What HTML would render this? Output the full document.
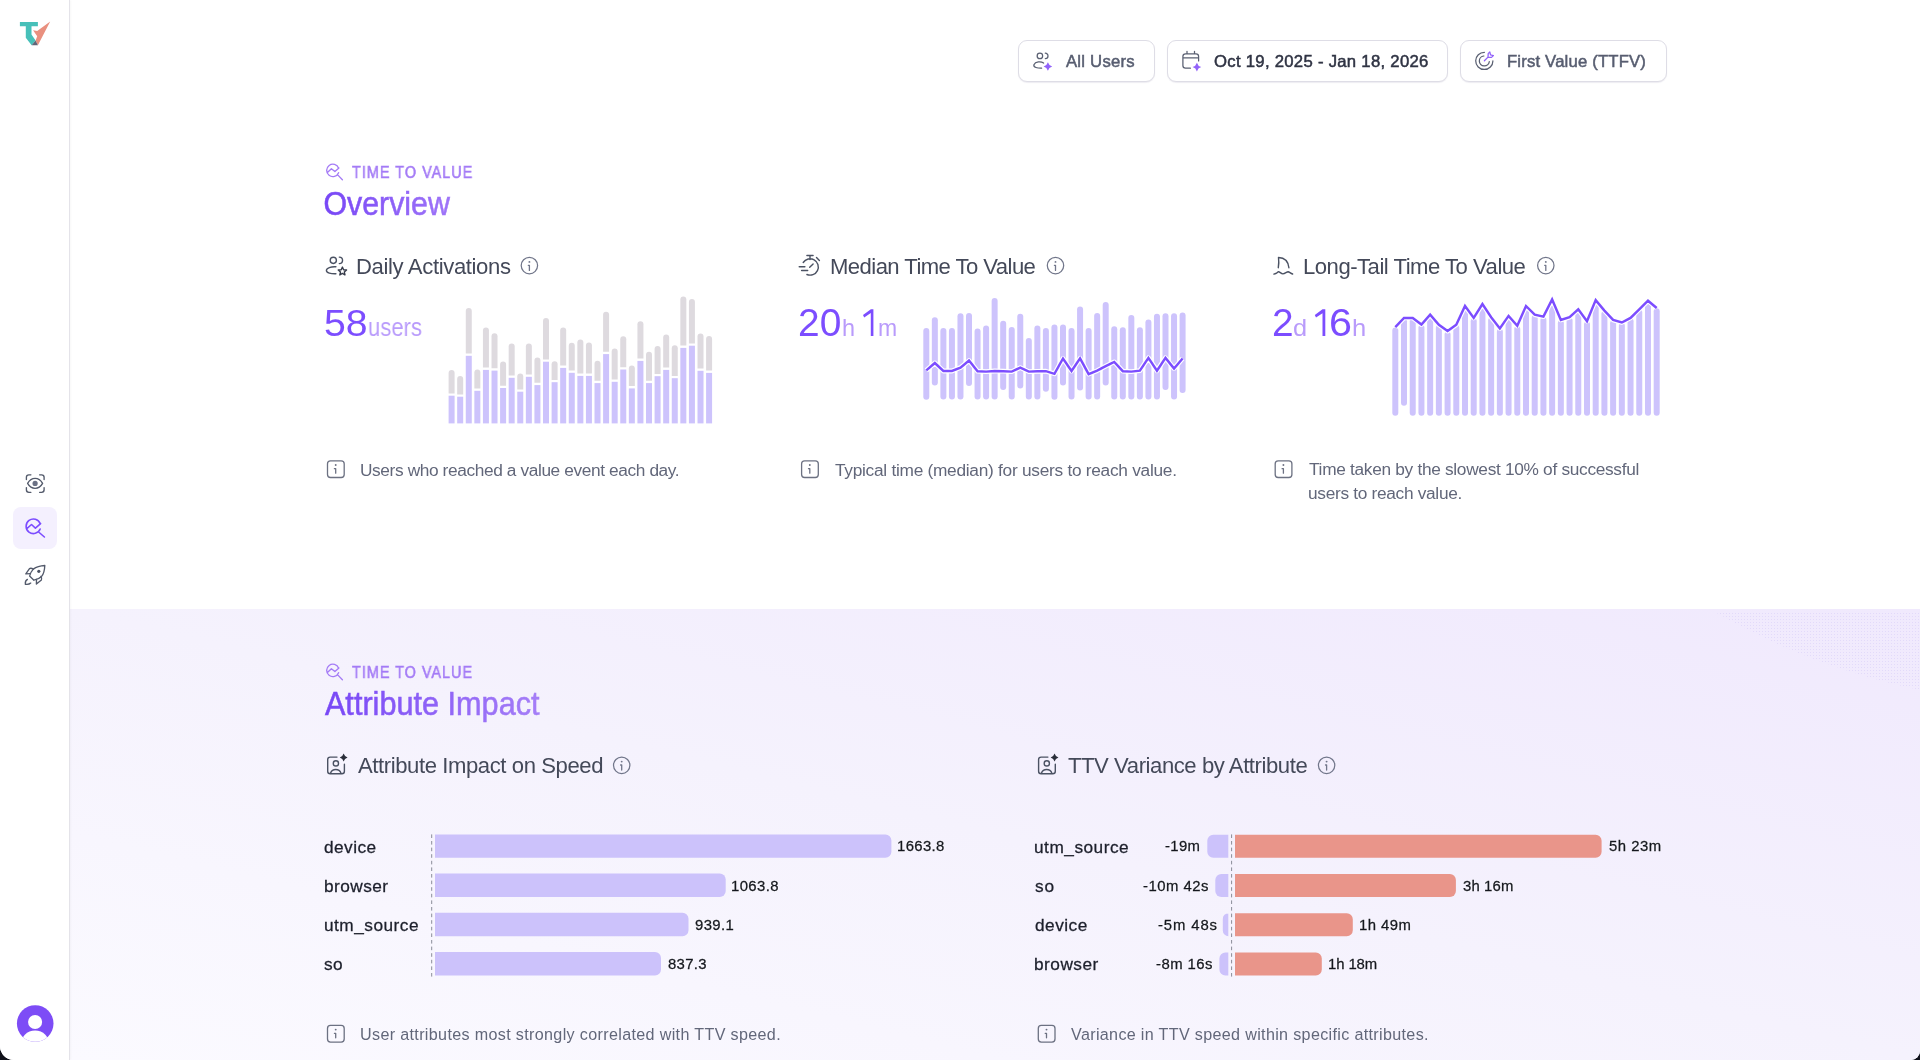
<!DOCTYPE html>
<html><head><meta charset="utf-8"><title>Time To Value</title>
<style>
html,body{margin:0;padding:0;width:1920px;height:1060px;overflow:hidden;background:#0f111a;}
#page{position:absolute;left:0;top:0;width:1920px;height:1060px;overflow:hidden;background:#ffffff;border-radius:0 0 9px 14px;}
.t{position:absolute;font-family:"Liberation Sans",sans-serif;line-height:1;white-space:pre;will-change:transform;}
.grad{background:linear-gradient(90deg,#7b4bfa 0%,#9a6cf8 100%);-webkit-background-clip:text;background-clip:text;color:transparent !important;}
.grad2{background:linear-gradient(90deg,#7b4bfa 0%,#a57af5 100%);-webkit-background-clip:text;background-clip:text;color:transparent !important;}
.halo{text-shadow:0 0 1.5px #fff,0 0 1.5px #fff,0 0 1px #fff;}
svg{position:absolute;left:0;top:0;}
</style></head><body><div id="page">
<div style="position:absolute;left:70px;top:609px;width:1850px;height:451px;background:linear-gradient(to top right,#fbfaff 0%,#f5f2fd 50%,#f0e9fd 100%);"></div>
<div style="position:absolute;left:0;top:0;width:69px;height:1060px;background:#fff;border-right:1px solid #e4e3e9;box-shadow:1px 0 2px rgba(20,20,40,0.03);"></div>
<div style="position:absolute;left:13px;top:507px;width:44px;height:42px;border-radius:8px;background:#f4f0fe;"></div>
<div style="position:absolute;left:1018px;top:40px;width:137px;height:42px;box-sizing:border-box;border:1px solid #dedde6;border-radius:9px;background:#fff;box-shadow:0 1px 1px rgba(40,30,90,0.08);"></div>
<div style="position:absolute;left:1167px;top:40px;width:281px;height:42px;box-sizing:border-box;border:1px solid #dedde6;border-radius:9px;background:#fff;box-shadow:0 1px 1px rgba(40,30,90,0.08);"></div>
<div style="position:absolute;left:1460px;top:40px;width:207px;height:42px;box-sizing:border-box;border:1px solid #dedde6;border-radius:9px;background:#fff;box-shadow:0 1px 1px rgba(40,30,90,0.08);"></div>
<svg width="1920" height="1060" viewBox="0 0 1920 1060" style="will-change:transform">
<defs><pattern id="dots" width="3" height="3" patternUnits="userSpaceOnUse"><circle cx="1.5" cy="1.5" r="0.55" fill="#a995f0"/></pattern></defs>
<path d="M1715 612H1920V690C1850 675 1780 650 1715 612Z" fill="url(#dots)" opacity="0.22"/>
<rect x="448.60" y="395.70" width="6" height="27.70" fill="#cdc3fc"/>
<path d="M448.60 393.40V372.90A3 3 0 0 1 454.60 372.90V393.40Z" fill="#dedadf"/>
<rect x="457.18" y="396.70" width="6" height="26.70" fill="#cdc3fc"/>
<path d="M457.18 394.40V378.90A3 3 0 0 1 463.18 378.90V394.40Z" fill="#dedadf"/>
<rect x="465.77" y="355.80" width="6" height="67.60" fill="#cdc3fc"/>
<path d="M465.77 353.50V311.10A3 3 0 0 1 471.77 311.10V353.50Z" fill="#dedadf"/>
<rect x="474.35" y="390.80" width="6" height="32.60" fill="#cdc3fc"/>
<path d="M474.35 388.50V372.60A3 3 0 0 1 480.35 372.60V388.50Z" fill="#dedadf"/>
<rect x="482.93" y="369.90" width="6" height="53.50" fill="#cdc3fc"/>
<path d="M482.93 367.60V330.60A3 3 0 0 1 488.93 330.60V367.60Z" fill="#dedadf"/>
<rect x="491.52" y="370.60" width="6" height="52.80" fill="#cdc3fc"/>
<path d="M491.52 368.30V336.30A3 3 0 0 1 497.52 336.30V368.30Z" fill="#dedadf"/>
<rect x="500.10" y="388.00" width="6" height="35.40" fill="#cdc3fc"/>
<path d="M500.10 385.70V364.60A3 3 0 0 1 506.10 364.60V385.70Z" fill="#dedadf"/>
<rect x="508.68" y="377.80" width="6" height="45.60" fill="#cdc3fc"/>
<path d="M508.68 375.50V346.50A3 3 0 0 1 514.68 346.50V375.50Z" fill="#dedadf"/>
<rect x="517.26" y="391.70" width="6" height="31.70" fill="#cdc3fc"/>
<path d="M517.26 389.40V376.50A3 3 0 0 1 523.26 376.50V389.40Z" fill="#dedadf"/>
<rect x="525.85" y="376.80" width="6" height="46.60" fill="#cdc3fc"/>
<path d="M525.85 374.50V346.50A3 3 0 0 1 531.85 346.50V374.50Z" fill="#dedadf"/>
<rect x="534.43" y="385.10" width="6" height="38.30" fill="#cdc3fc"/>
<path d="M534.43 382.80V360.40A3 3 0 0 1 540.43 360.40V382.80Z" fill="#dedadf"/>
<rect x="543.01" y="361.70" width="6" height="61.70" fill="#cdc3fc"/>
<path d="M543.01 359.40V321.00A3 3 0 0 1 549.01 321.00V359.40Z" fill="#dedadf"/>
<rect x="551.60" y="382.20" width="6" height="41.20" fill="#cdc3fc"/>
<path d="M551.60 379.90V364.30A3 3 0 0 1 557.60 364.30V379.90Z" fill="#dedadf"/>
<rect x="560.18" y="367.90" width="6" height="55.50" fill="#cdc3fc"/>
<path d="M560.18 365.60V330.40A3 3 0 0 1 566.18 330.40V365.60Z" fill="#dedadf"/>
<rect x="568.76" y="372.80" width="6" height="50.60" fill="#cdc3fc"/>
<path d="M568.76 370.50V345.80A3 3 0 0 1 574.76 345.80V370.50Z" fill="#dedadf"/>
<rect x="577.35" y="375.90" width="6" height="47.50" fill="#cdc3fc"/>
<path d="M577.35 373.60V342.50A3 3 0 0 1 583.35 342.50V373.60Z" fill="#dedadf"/>
<rect x="585.93" y="375.90" width="6" height="47.50" fill="#cdc3fc"/>
<path d="M585.93 373.60V345.60A3 3 0 0 1 591.93 345.60V373.60Z" fill="#dedadf"/>
<rect x="594.51" y="383.10" width="6" height="40.30" fill="#cdc3fc"/>
<path d="M594.51 380.80V363.70A3 3 0 0 1 600.51 363.70V380.80Z" fill="#dedadf"/>
<rect x="603.09" y="354.10" width="6" height="69.30" fill="#cdc3fc"/>
<path d="M603.09 351.80V314.80A3 3 0 0 1 609.09 314.80V351.80Z" fill="#dedadf"/>
<rect x="611.68" y="381.80" width="6" height="41.60" fill="#cdc3fc"/>
<path d="M611.68 379.50V351.50A3 3 0 0 1 617.68 351.50V379.50Z" fill="#dedadf"/>
<rect x="620.26" y="369.50" width="6" height="53.90" fill="#cdc3fc"/>
<path d="M620.26 367.20V339.20A3 3 0 0 1 626.26 339.20V367.20Z" fill="#dedadf"/>
<rect x="628.84" y="388.40" width="6" height="35.00" fill="#cdc3fc"/>
<path d="M628.84 386.10V368.60A3 3 0 0 1 634.84 368.60V386.10Z" fill="#dedadf"/>
<rect x="637.43" y="360.90" width="6" height="62.50" fill="#cdc3fc"/>
<path d="M637.43 358.60V324.30A3 3 0 0 1 643.43 324.30V358.60Z" fill="#dedadf"/>
<rect x="646.01" y="383.10" width="6" height="40.30" fill="#cdc3fc"/>
<path d="M646.01 380.80V354.80A3 3 0 0 1 652.01 354.80V380.80Z" fill="#dedadf"/>
<rect x="654.59" y="376.20" width="6" height="47.20" fill="#cdc3fc"/>
<path d="M654.59 373.90V349.10A3 3 0 0 1 660.59 349.10V373.90Z" fill="#dedadf"/>
<rect x="663.18" y="369.90" width="6" height="53.50" fill="#cdc3fc"/>
<path d="M663.18 367.60V337.50A3 3 0 0 1 669.18 337.50V367.60Z" fill="#dedadf"/>
<rect x="671.76" y="378.20" width="6" height="45.20" fill="#cdc3fc"/>
<path d="M671.76 375.90V348.20A3 3 0 0 1 677.76 348.20V375.90Z" fill="#dedadf"/>
<rect x="680.34" y="347.90" width="6" height="75.50" fill="#cdc3fc"/>
<path d="M680.34 345.60V299.60A3 3 0 0 1 686.34 299.60V345.60Z" fill="#dedadf"/>
<rect x="688.92" y="345.70" width="6" height="77.70" fill="#cdc3fc"/>
<path d="M688.92 343.40V302.00A3 3 0 0 1 694.92 302.00V343.40Z" fill="#dedadf"/>
<rect x="697.51" y="370.80" width="6" height="52.60" fill="#cdc3fc"/>
<path d="M697.51 368.50V336.60A3 3 0 0 1 703.51 336.60V368.50Z" fill="#dedadf"/>
<rect x="706.09" y="372.90" width="6" height="50.50" fill="#cdc3fc"/>
<path d="M706.09 370.60V339.00A3 3 0 0 1 712.09 339.00V370.60Z" fill="#dedadf"/>
<line x1="926.30" y1="330.90" x2="926.30" y2="396.70" stroke="#cdc3fc" stroke-width="6" stroke-linecap="round"/>
<line x1="934.84" y1="320.20" x2="934.84" y2="382.50" stroke="#cdc3fc" stroke-width="6" stroke-linecap="round"/>
<line x1="943.39" y1="331.00" x2="943.39" y2="396.50" stroke="#cdc3fc" stroke-width="6" stroke-linecap="round"/>
<line x1="951.93" y1="331.00" x2="951.93" y2="396.50" stroke="#cdc3fc" stroke-width="6" stroke-linecap="round"/>
<line x1="960.47" y1="316.20" x2="960.47" y2="396.50" stroke="#cdc3fc" stroke-width="6" stroke-linecap="round"/>
<line x1="969.01" y1="316.00" x2="969.01" y2="383.10" stroke="#cdc3fc" stroke-width="6" stroke-linecap="round"/>
<line x1="977.56" y1="331.50" x2="977.56" y2="396.50" stroke="#cdc3fc" stroke-width="6" stroke-linecap="round"/>
<line x1="986.10" y1="328.40" x2="986.10" y2="396.50" stroke="#cdc3fc" stroke-width="6" stroke-linecap="round"/>
<line x1="994.64" y1="300.90" x2="994.64" y2="396.50" stroke="#cdc3fc" stroke-width="6" stroke-linecap="round"/>
<line x1="1003.19" y1="323.80" x2="1003.19" y2="387.10" stroke="#cdc3fc" stroke-width="6" stroke-linecap="round"/>
<line x1="1011.73" y1="330.10" x2="1011.73" y2="396.50" stroke="#cdc3fc" stroke-width="6" stroke-linecap="round"/>
<line x1="1020.27" y1="316.80" x2="1020.27" y2="385.40" stroke="#cdc3fc" stroke-width="6" stroke-linecap="round"/>
<line x1="1028.82" y1="341.00" x2="1028.82" y2="396.50" stroke="#cdc3fc" stroke-width="6" stroke-linecap="round"/>
<line x1="1037.36" y1="328.60" x2="1037.36" y2="396.50" stroke="#cdc3fc" stroke-width="6" stroke-linecap="round"/>
<line x1="1045.90" y1="331.00" x2="1045.90" y2="388.80" stroke="#cdc3fc" stroke-width="6" stroke-linecap="round"/>
<line x1="1054.44" y1="327.50" x2="1054.44" y2="396.70" stroke="#cdc3fc" stroke-width="6" stroke-linecap="round"/>
<line x1="1062.99" y1="327.50" x2="1062.99" y2="382.50" stroke="#cdc3fc" stroke-width="6" stroke-linecap="round"/>
<line x1="1071.53" y1="331.00" x2="1071.53" y2="396.50" stroke="#cdc3fc" stroke-width="6" stroke-linecap="round"/>
<line x1="1080.07" y1="309.40" x2="1080.07" y2="387.50" stroke="#cdc3fc" stroke-width="6" stroke-linecap="round"/>
<line x1="1088.62" y1="331.00" x2="1088.62" y2="396.50" stroke="#cdc3fc" stroke-width="6" stroke-linecap="round"/>
<line x1="1097.16" y1="316.00" x2="1097.16" y2="396.50" stroke="#cdc3fc" stroke-width="6" stroke-linecap="round"/>
<line x1="1105.70" y1="304.90" x2="1105.70" y2="382.50" stroke="#cdc3fc" stroke-width="6" stroke-linecap="round"/>
<line x1="1114.25" y1="329.20" x2="1114.25" y2="396.50" stroke="#cdc3fc" stroke-width="6" stroke-linecap="round"/>
<line x1="1122.79" y1="330.30" x2="1122.79" y2="396.50" stroke="#cdc3fc" stroke-width="6" stroke-linecap="round"/>
<line x1="1131.33" y1="318.00" x2="1131.33" y2="396.50" stroke="#cdc3fc" stroke-width="6" stroke-linecap="round"/>
<line x1="1139.88" y1="330.30" x2="1139.88" y2="396.50" stroke="#cdc3fc" stroke-width="6" stroke-linecap="round"/>
<line x1="1148.42" y1="322.40" x2="1148.42" y2="396.50" stroke="#cdc3fc" stroke-width="6" stroke-linecap="round"/>
<line x1="1156.96" y1="316.80" x2="1156.96" y2="396.50" stroke="#cdc3fc" stroke-width="6" stroke-linecap="round"/>
<line x1="1165.50" y1="316.20" x2="1165.50" y2="387.10" stroke="#cdc3fc" stroke-width="6" stroke-linecap="round"/>
<line x1="1174.05" y1="316.20" x2="1174.05" y2="396.50" stroke="#cdc3fc" stroke-width="6" stroke-linecap="round"/>
<line x1="1182.59" y1="315.60" x2="1182.59" y2="389.90" stroke="#cdc3fc" stroke-width="6" stroke-linecap="round"/>
<polyline points="926.30,370.40 934.84,363.00 943.39,371.00 951.93,371.00 960.47,367.60 969.01,360.60 977.56,371.20 986.10,371.60 994.64,371.00 1003.19,371.20 1011.73,371.60 1020.27,367.60 1028.82,371.60 1037.36,371.30 1045.90,371.20 1054.44,373.80 1062.99,358.50 1071.53,371.00 1080.07,358.30 1088.62,374.10 1097.16,370.70 1105.70,366.20 1114.25,361.90 1122.79,371.20 1131.33,371.60 1139.88,370.70 1148.42,357.90 1156.96,370.70 1165.50,357.90 1174.05,368.50 1182.59,358.50" fill="none" stroke="#fff" stroke-width="4.8" stroke-linejoin="round"/>
<polyline points="926.30,370.40 934.84,363.00 943.39,371.00 951.93,371.00 960.47,367.60 969.01,360.60 977.56,371.20 986.10,371.60 994.64,371.00 1003.19,371.20 1011.73,371.60 1020.27,367.60 1028.82,371.60 1037.36,371.30 1045.90,371.20 1054.44,373.80 1062.99,358.50 1071.53,371.00 1080.07,358.30 1088.62,374.10 1097.16,370.70 1105.70,366.20 1114.25,361.90 1122.79,371.20 1131.33,371.60 1139.88,370.70 1148.42,357.90 1156.96,370.70 1165.50,357.90 1174.05,368.50 1182.59,358.50" fill="none" stroke="#7c4dff" stroke-width="2.45" stroke-linejoin="miter"/>
<line x1="1395.30" y1="330.50" x2="1395.30" y2="412.70" stroke="#cdc3fc" stroke-width="6" stroke-linecap="round"/>
<line x1="1404.01" y1="321.20" x2="1404.01" y2="402.80" stroke="#cdc3fc" stroke-width="6" stroke-linecap="round"/>
<line x1="1412.73" y1="321.20" x2="1412.73" y2="412.70" stroke="#cdc3fc" stroke-width="6" stroke-linecap="round"/>
<line x1="1421.44" y1="327.80" x2="1421.44" y2="412.70" stroke="#cdc3fc" stroke-width="6" stroke-linecap="round"/>
<line x1="1430.15" y1="317.90" x2="1430.15" y2="412.70" stroke="#cdc3fc" stroke-width="6" stroke-linecap="round"/>
<line x1="1438.87" y1="328.10" x2="1438.87" y2="412.70" stroke="#cdc3fc" stroke-width="6" stroke-linecap="round"/>
<line x1="1447.58" y1="334.40" x2="1447.58" y2="412.70" stroke="#cdc3fc" stroke-width="6" stroke-linecap="round"/>
<line x1="1456.29" y1="328.10" x2="1456.29" y2="412.70" stroke="#cdc3fc" stroke-width="6" stroke-linecap="round"/>
<line x1="1465.00" y1="309.30" x2="1465.00" y2="412.70" stroke="#cdc3fc" stroke-width="6" stroke-linecap="round"/>
<line x1="1473.72" y1="321.20" x2="1473.72" y2="412.70" stroke="#cdc3fc" stroke-width="6" stroke-linecap="round"/>
<line x1="1482.43" y1="307.30" x2="1482.43" y2="412.70" stroke="#cdc3fc" stroke-width="6" stroke-linecap="round"/>
<line x1="1491.14" y1="320.50" x2="1491.14" y2="412.70" stroke="#cdc3fc" stroke-width="6" stroke-linecap="round"/>
<line x1="1499.86" y1="331.80" x2="1499.86" y2="412.70" stroke="#cdc3fc" stroke-width="6" stroke-linecap="round"/>
<line x1="1508.57" y1="319.20" x2="1508.57" y2="412.70" stroke="#cdc3fc" stroke-width="6" stroke-linecap="round"/>
<line x1="1517.28" y1="329.10" x2="1517.28" y2="412.70" stroke="#cdc3fc" stroke-width="6" stroke-linecap="round"/>
<line x1="1525.99" y1="309.30" x2="1525.99" y2="412.70" stroke="#cdc3fc" stroke-width="6" stroke-linecap="round"/>
<line x1="1534.71" y1="317.90" x2="1534.71" y2="412.70" stroke="#cdc3fc" stroke-width="6" stroke-linecap="round"/>
<line x1="1543.42" y1="319.90" x2="1543.42" y2="412.70" stroke="#cdc3fc" stroke-width="6" stroke-linecap="round"/>
<line x1="1552.13" y1="302.70" x2="1552.13" y2="412.70" stroke="#cdc3fc" stroke-width="6" stroke-linecap="round"/>
<line x1="1560.85" y1="323.20" x2="1560.85" y2="412.70" stroke="#cdc3fc" stroke-width="6" stroke-linecap="round"/>
<line x1="1569.56" y1="320.50" x2="1569.56" y2="412.70" stroke="#cdc3fc" stroke-width="6" stroke-linecap="round"/>
<line x1="1578.27" y1="312.60" x2="1578.27" y2="412.70" stroke="#cdc3fc" stroke-width="6" stroke-linecap="round"/>
<line x1="1586.99" y1="324.50" x2="1586.99" y2="412.70" stroke="#cdc3fc" stroke-width="6" stroke-linecap="round"/>
<line x1="1595.70" y1="303.40" x2="1595.70" y2="412.70" stroke="#cdc3fc" stroke-width="6" stroke-linecap="round"/>
<line x1="1604.41" y1="313.90" x2="1604.41" y2="412.70" stroke="#cdc3fc" stroke-width="6" stroke-linecap="round"/>
<line x1="1613.12" y1="323.20" x2="1613.12" y2="412.70" stroke="#cdc3fc" stroke-width="6" stroke-linecap="round"/>
<line x1="1621.84" y1="325.80" x2="1621.84" y2="412.70" stroke="#cdc3fc" stroke-width="6" stroke-linecap="round"/>
<line x1="1630.55" y1="321.20" x2="1630.55" y2="412.70" stroke="#cdc3fc" stroke-width="6" stroke-linecap="round"/>
<line x1="1639.26" y1="312.60" x2="1639.26" y2="412.70" stroke="#cdc3fc" stroke-width="6" stroke-linecap="round"/>
<line x1="1647.98" y1="304.00" x2="1647.98" y2="412.70" stroke="#cdc3fc" stroke-width="6" stroke-linecap="round"/>
<line x1="1656.69" y1="311.30" x2="1656.69" y2="412.70" stroke="#cdc3fc" stroke-width="6" stroke-linecap="round"/>
<polyline points="1395.30,327.20 1404.01,317.90 1412.73,317.90 1421.44,324.50 1430.15,314.60 1438.87,324.80 1447.58,331.10 1456.29,324.80 1465.00,306.00 1473.72,317.90 1482.43,304.00 1491.14,317.20 1499.86,328.50 1508.57,315.90 1517.28,325.80 1525.99,306.00 1534.71,314.60 1543.42,316.60 1552.13,299.40 1560.85,319.90 1569.56,317.20 1578.27,309.30 1586.99,321.20 1595.70,300.10 1604.41,310.60 1613.12,319.90 1621.84,322.50 1630.55,317.90 1639.26,309.30 1647.98,300.70 1656.69,308.00" fill="none" stroke="#fff" stroke-width="4.8" stroke-linejoin="round"/>
<polyline points="1395.30,327.20 1404.01,317.90 1412.73,317.90 1421.44,324.50 1430.15,314.60 1438.87,324.80 1447.58,331.10 1456.29,324.80 1465.00,306.00 1473.72,317.90 1482.43,304.00 1491.14,317.20 1499.86,328.50 1508.57,315.90 1517.28,325.80 1525.99,306.00 1534.71,314.60 1543.42,316.60 1552.13,299.40 1560.85,319.90 1569.56,317.20 1578.27,309.30 1586.99,321.20 1595.70,300.10 1604.41,310.60 1613.12,319.90 1621.84,322.50 1630.55,317.90 1639.26,309.30 1647.98,300.70 1656.69,308.00" fill="none" stroke="#7c4dff" stroke-width="2.45" stroke-linejoin="miter"/>
<path d="M435.00 834.40H885.40A6 6 0 0 1 891.40 840.40V851.80A6 6 0 0 1 885.40 857.80H435.00Z" fill="#ccc2fb"/>
<path d="M435.00 873.60H719.70A6 6 0 0 1 725.70 879.60V891.00A6 6 0 0 1 719.70 897.00H435.00Z" fill="#ccc2fb"/>
<path d="M435.00 912.80H682.50A6 6 0 0 1 688.50 918.80V930.20A6 6 0 0 1 682.50 936.20H435.00Z" fill="#ccc2fb"/>
<path d="M435.00 952.00H655.00A6 6 0 0 1 661.00 958.00V969.40A6 6 0 0 1 655.00 975.40H435.00Z" fill="#ccc2fb"/>
<line x1="431.7" y1="834.4" x2="431.7" y2="977.5" stroke="#8b8d99" stroke-width="1" stroke-dasharray="3.6 3"/>
<path d="M1235.00 834.80H1595.60A6 6 0 0 1 1601.60 840.80V851.80A6 6 0 0 1 1595.60 857.80H1235.00Z" fill="#e9958a"/>
<path d="M1228.30 834.80H1213.30A6 6 0 0 0 1207.30 840.80V851.80A6 6 0 0 0 1213.30 857.80H1228.30Z" fill="#ccc2fb"/>
<path d="M1235.00 874.00H1449.90A6 6 0 0 1 1455.90 880.00V891.00A6 6 0 0 1 1449.90 897.00H1235.00Z" fill="#e9958a"/>
<path d="M1228.30 874.00H1221.30A6 6 0 0 0 1215.30 880.00V891.00A6 6 0 0 0 1221.30 897.00H1228.30Z" fill="#ccc2fb"/>
<path d="M1235.00 913.20H1346.80A6 6 0 0 1 1352.80 919.20V930.20A6 6 0 0 1 1346.80 936.20H1235.00Z" fill="#e9958a"/>
<path d="M1228.30 913.20H1228.50A5.7000000000000455 5.7000000000000455 0 0 0 1222.80 918.90V930.50A5.7000000000000455 5.7000000000000455 0 0 0 1228.50 936.20H1228.30Z" fill="#ccc2fb"/>
<path d="M1235.00 952.40H1315.80A6 6 0 0 1 1321.80 958.40V969.40A6 6 0 0 1 1315.80 975.40H1235.00Z" fill="#e9958a"/>
<path d="M1228.30 952.40H1225.40A6 6 0 0 0 1219.40 958.40V969.40A6 6 0 0 0 1225.40 975.40H1228.30Z" fill="#ccc2fb"/>
<line x1="1231.6" y1="834.4" x2="1231.6" y2="977.5" stroke="#8b8d99" stroke-width="1" stroke-dasharray="3.6 3"/>
<circle cx="529.4" cy="265.6" r="8.2" fill="none" stroke="#71768a" stroke-width="1.25"/>
<path d="M528.3 265.3H529.4V270.40000000000003" fill="none" stroke="#71768a" stroke-width="1.3" stroke-linecap="round" stroke-linejoin="round"/>
<circle cx="529.4" cy="261.90000000000003" r="0.95" fill="#71768a"/>
<circle cx="1055.5" cy="265.6" r="8.2" fill="none" stroke="#71768a" stroke-width="1.25"/>
<path d="M1054.4 265.3H1055.5V270.40000000000003" fill="none" stroke="#71768a" stroke-width="1.3" stroke-linecap="round" stroke-linejoin="round"/>
<circle cx="1055.5" cy="261.90000000000003" r="0.95" fill="#71768a"/>
<circle cx="1545.8" cy="265.6" r="8.2" fill="none" stroke="#71768a" stroke-width="1.25"/>
<path d="M1544.7 265.3H1545.8V270.40000000000003" fill="none" stroke="#71768a" stroke-width="1.3" stroke-linecap="round" stroke-linejoin="round"/>
<circle cx="1545.8" cy="261.90000000000003" r="0.95" fill="#71768a"/>
<circle cx="621.7" cy="765.3" r="8.2" fill="none" stroke="#71768a" stroke-width="1.25"/>
<path d="M620.6 765.0H621.7V770.0999999999999" fill="none" stroke="#71768a" stroke-width="1.3" stroke-linecap="round" stroke-linejoin="round"/>
<circle cx="621.7" cy="761.5999999999999" r="0.95" fill="#71768a"/>
<circle cx="1326.6" cy="765.3" r="8.2" fill="none" stroke="#71768a" stroke-width="1.25"/>
<path d="M1325.5 765.0H1326.6V770.0999999999999" fill="none" stroke="#71768a" stroke-width="1.3" stroke-linecap="round" stroke-linejoin="round"/>
<circle cx="1326.6" cy="761.5999999999999" r="0.95" fill="#71768a"/>
<rect x="327.5" y="460.8" width="16.7" height="16.7" rx="3" fill="none" stroke="#6c7182" stroke-width="1.3"/>
<circle cx="335.7" cy="465.0" r="0.95" fill="#6c7182"/><path d="M334.4 468.7H335.7V473.2" fill="none" stroke="#6c7182" stroke-width="1.3" stroke-linecap="round" stroke-linejoin="round"/>
<rect x="801.6" y="460.8" width="16.7" height="16.7" rx="3" fill="none" stroke="#6c7182" stroke-width="1.3"/>
<circle cx="809.8000000000001" cy="465.0" r="0.95" fill="#6c7182"/><path d="M808.5 468.7H809.8000000000001V473.2" fill="none" stroke="#6c7182" stroke-width="1.3" stroke-linecap="round" stroke-linejoin="round"/>
<rect x="1275.2" y="460.8" width="16.7" height="16.7" rx="3" fill="none" stroke="#6c7182" stroke-width="1.3"/>
<circle cx="1283.4" cy="465.0" r="0.95" fill="#6c7182"/><path d="M1282.1000000000001 468.7H1283.4V473.2" fill="none" stroke="#6c7182" stroke-width="1.3" stroke-linecap="round" stroke-linejoin="round"/>
<rect x="327.5" y="1025.4" width="16.7" height="16.7" rx="3" fill="none" stroke="#6c7182" stroke-width="1.3"/>
<circle cx="335.7" cy="1029.6000000000001" r="0.95" fill="#6c7182"/><path d="M334.4 1033.3000000000002H335.7V1037.8000000000002" fill="none" stroke="#6c7182" stroke-width="1.3" stroke-linecap="round" stroke-linejoin="round"/>
<rect x="1038.3" y="1025.4" width="16.7" height="16.7" rx="3" fill="none" stroke="#6c7182" stroke-width="1.3"/>
<circle cx="1046.5" cy="1029.6000000000001" r="0.95" fill="#6c7182"/><path d="M1045.2 1033.3000000000002H1046.5V1037.8000000000002" fill="none" stroke="#6c7182" stroke-width="1.3" stroke-linecap="round" stroke-linejoin="round"/>
<polygon points="19.9,22 37.9,22 37.9,26.3 31.5,26.3 31.5,34.5 35.6,40.6 31.6,45.2 25.8,37.8 25.8,26.3 19.9,26.3" fill="#47c0b9"/>
<polygon points="33.1,30.3 37.2,30.9 50.2,21.6 37.9,45.2 35.6,40.6 37.2,36.2" fill="#e9907f"/>
<polygon points="31.6,45.2 35.6,40.6 37.9,45.2" fill="#5f6577"/>
<path d="M26.4 479.6V477.3A2.5 2.5 0 0 1 28.9 474.8H30.9 M39.6 474.8H41.6A2.5 2.5 0 0 1 44.1 477.3V479.6 M44.1 487.6V489.8A2.5 2.5 0 0 1 41.6 492.3H39.6 M30.9 492.3H28.9A2.5 2.5 0 0 1 26.4 489.8V487.6" fill="none" stroke="#535a6b" stroke-width="1.35" stroke-linecap="round" stroke-linejoin="round"/>
<path d="M27.6 483.4C29.8 479.6 32.3 478.4 35.1 478.4C37.9 478.4 40.4 479.6 42.6 483.4C40.4 487.2 37.9 488.4 35.1 488.4C32.3 488.4 29.8 487.2 27.6 483.4Z" fill="none" stroke="#535a6b" stroke-width="1.35" stroke-linecap="round" stroke-linejoin="round"/>
<circle cx="35.1" cy="483.4" r="2.6" fill="#6b7184"/>
<path d="M40.22 523.68A7.3 7.3 0 1 0 40.17 529.03 M27.10 528.30 L31.50 524.50 L35.40 528.10 L40.60 523.60 M38.6 532.0L44.4 537.0" fill="none" stroke="#7c4dff" stroke-width="1.6" stroke-linecap="round" stroke-linejoin="round"/>
<path d="M44.8 565.5C39.5 565.8 35.5 567.5 33.3 569.1C31.5 571 30.3 573.3 29.6 576.1L33.9 580.2C36.7 579.5 39.6 578.3 41.6 576.4C43.5 574.2 44.6 570 44.8 565.5Z" fill="none" stroke="#535a6b" stroke-width="1.35" stroke-linecap="round" stroke-linejoin="round"/>
<path d="M33.3 569.1C31.8 568.2 30.4 568.1 29.5 568.6L25.8 573.9L30.5 573.6 M40.9 576.4C41.8 577.9 41.9 579 41.4 579.9L36.4 584.1L36.5 579.5" fill="none" stroke="#535a6b" stroke-width="1.35" stroke-linecap="round" stroke-linejoin="round"/>
<circle cx="38.8" cy="571.3" r="1.6" fill="#4b5263"/>
<path d="M27.4 579.4C25.6 580.5 25.1 582.6 25.4 584.3C27.4 584.6 29.6 584.2 30.7 583.1" fill="none" stroke="#535a6b" stroke-width="1.35" stroke-linecap="round" stroke-linejoin="round"/>
<defs><clipPath id="avc"><circle cx="35.2" cy="1023.5" r="18.3"/></clipPath></defs>
<circle cx="35.2" cy="1023.5" r="18.3" fill="#7d4cf6"/>
<g clip-path="url(#avc)"><circle cx="35.1" cy="1022.05" r="7.05" fill="#fff"/><ellipse cx="35.1" cy="1044.5" rx="14.5" ry="13.9" fill="#fff"/></g>
<circle cx="1039.9" cy="55.9" r="2.75" fill="none" stroke="#5a6072" stroke-width="1.25" stroke-linecap="round" stroke-linejoin="round"/>
<path d="M1045.3 53.2A2.7 2.7 0 0 1 1045.3 58.6" fill="none" stroke="#5a6072" stroke-width="1.25" stroke-linecap="round" stroke-linejoin="round"/>
<path d="M1043.6 63.1C1041 61.2 1035.4 61.4 1033.9 64.8C1033.2 67.4 1037.5 68.3 1041.6 68.2" fill="none" stroke="#5a6072" stroke-width="1.25" stroke-linecap="round" stroke-linejoin="round"/>
<path d="M1047.9 62.2Q1048.846 65.554 1052.2 66.5Q1048.846 67.446 1047.9 70.8Q1046.9540000000002 67.446 1043.6000000000001 66.5Q1046.9540000000002 65.554 1047.9 62.2Z" fill="#9263fa"/>
<path d="M1198.6 60.9V56.4A2.6 2.6 0 0 0 1196 53.8H1185.5A2.6 2.6 0 0 0 1182.9 56.4V65.6A2.6 2.6 0 0 0 1185.5 68.2H1190.4 M1183 57.9H1198.6 M1187 51.3V53.8 M1194.5 51.3V53.8" fill="none" stroke="#5a6072" stroke-width="1.25" stroke-linecap="round" stroke-linejoin="round"/>
<path d="M1196.9 62.8Q1197.846 66.154 1201.2 67.1Q1197.846 68.04599999999999 1196.9 71.39999999999999Q1195.9540000000002 68.04599999999999 1192.6000000000001 67.1Q1195.9540000000002 66.154 1196.9 62.8Z" fill="#9263fa"/>
<path d="M1484.4 52.3A8.6 8.6 0 1 0 1492.9 60.9 M1483.8 56.0A5 5 0 1 0 1489.3 61.6" fill="none" stroke="#5a6072" stroke-width="1.25" stroke-linecap="round" stroke-linejoin="round"/>
<path d="M1484.4 60.8L1488.0 57.1 M1488.0 57.1L1488.2 53.6L1489.8 51.9L1490.5 54.9L1493.4 55.6L1491.5 57.4Z" fill="none" stroke="#9263fa" stroke-width="1.3" stroke-linecap="round" stroke-linejoin="round"/>
<path d="M338.64 168.18A6.2 6.2 0 1 0 338.60 172.72 M327.40 172.60 L331.40 168.70 L334.90 171.60 L338.90 167.90 M337.7 174.9L342.4 179.7" fill="none" stroke="#a57cf6" stroke-width="1.35" stroke-linecap="round" stroke-linejoin="round"/>
<path d="M338.64 668.18A6.2 6.2 0 1 0 338.60 672.72 M327.40 672.60 L331.40 668.70 L334.90 671.60 L338.90 667.90 M337.7 674.9L342.4 679.7" fill="none" stroke="#a57cf6" stroke-width="1.35" stroke-linecap="round" stroke-linejoin="round"/>
<circle cx="333.3" cy="260.35" r="3.1" fill="none" stroke="#4b5263" stroke-width="1.4" stroke-linecap="round" stroke-linejoin="round"/>
<path d="M339.3 257.1A3.25 3.25 0 0 1 339.3 263.6" fill="none" stroke="#4b5263" stroke-width="1.4" stroke-linecap="round" stroke-linejoin="round"/>
<path d="M335.9 266.8C331 266.4 326.4 268.2 326.4 270.4C326.4 272.8 331 274 335.9 273.8" fill="none" stroke="#4b5263" stroke-width="1.4" stroke-linecap="round" stroke-linejoin="round"/>
<polygon points="342.40,267.00 343.58,269.78 346.58,270.04 344.30,272.02 344.99,274.96 342.40,273.40 339.81,274.96 340.50,272.02 338.22,270.04 341.22,269.78" fill="none" stroke="#353a49" stroke-width="1.35" stroke-linejoin="round"/>
<path d="M803.2 262.5A8.2 8.2 0 1 1 806.9 274.5 M810.0 256.1V259.5 M806.9 255.5H813.1 M816.5 257.4L819.4 260.4 M809.7 267.3L813.1 263.9 M799.2 266.7H804.9 M801.6 270.5H807.7" fill="none" stroke="#4b5263" stroke-width="1.4" stroke-linecap="round" stroke-linejoin="round"/>
<path d="M1278.3 267.7C1278.9 264 1278.9 260.5 1278.5 257.5C1284.5 257.8 1288.3 261.8 1288.9 267.7 M1273.9 274.1L1275.8 273.5C1276.8 273.2 1277.6 272.2 1278.5 271.7C1279.8 271.7 1281 273.9 1282.9 273.9C1285 273.9 1286.6 271.7 1288.1 271.7C1289.4 271.9 1290.5 273.4 1292.6 274.0" fill="none" stroke="#4b5263" stroke-width="1.4" stroke-linecap="round" stroke-linejoin="round"/>
<path d="M337.0 757.1H330.2A2.5 2.5 0 0 0 327.7 759.6V771.3A2.5 2.5 0 0 0 330.2 773.8H341.9A2.5 2.5 0 0 0 344.4 771.3V764.2" fill="none" stroke="#4b5263" stroke-width="1.4" stroke-linecap="round" stroke-linejoin="round"/>
<circle cx="335.9" cy="763.4" r="2.6" fill="none" stroke="#4b5263" stroke-width="1.4" stroke-linecap="round" stroke-linejoin="round"/>
<path d="M330.5 773.2A5.6 5.6 0 0 1 341.0 773.2" fill="none" stroke="#4b5263" stroke-width="1.4" stroke-linecap="round" stroke-linejoin="round"/>
<path d="M343.65 753.6Q344.508 756.642 347.54999999999995 757.5Q344.508 758.358 343.65 761.4Q342.792 758.358 339.75 757.5Q342.792 756.642 343.65 753.6Z" fill="#2a2e3a"/>
<path d="M1047.8999999999999 757.1H1041.1A2.5 2.5 0 0 0 1038.6 759.6V771.3A2.5 2.5 0 0 0 1041.1 773.8H1052.8A2.5 2.5 0 0 0 1055.3 771.3V764.2" fill="none" stroke="#4b5263" stroke-width="1.4" stroke-linecap="round" stroke-linejoin="round"/>
<circle cx="1046.8" cy="763.4" r="2.6" fill="none" stroke="#4b5263" stroke-width="1.4" stroke-linecap="round" stroke-linejoin="round"/>
<path d="M1041.3999999999999 773.2A5.6 5.6 0 0 1 1051.8999999999999 773.2" fill="none" stroke="#4b5263" stroke-width="1.4" stroke-linecap="round" stroke-linejoin="round"/>
<path d="M1054.55 753.6Q1055.408 756.642 1058.45 757.5Q1055.408 758.358 1054.55 761.4Q1053.692 758.358 1050.6499999999999 757.5Q1053.692 756.642 1054.55 753.6Z" fill="#2a2e3a"/>
<polygon points="870.9,309.2 873.4,309.2 873.4,335.9 870.8,335.9 870.8,313.1 864.2,317.4 863.0,314.9" fill="#7c4dff"/>
<polygon points="1322.5,309.2 1325.3,309.2 1325.3,335.9 1322.5,335.9 1322.5,313.3 1316.0,317.6 1314.8,315.0" fill="#7c4dff"/>
<defs><linearGradient id="tg1" gradientUnits="userSpaceOnUse" x1="325.0" y1="0" x2="450.0" y2="0"><stop offset="0" stop-color="#7847f6"/><stop offset="1" stop-color="#9f75f8"/></linearGradient></defs>
<text x="323.40" y="215.1" font-family="Liberation Sans" font-size="33.72" fill="url(#tg1)" stroke="url(#tg1)" stroke-width="0.55" textLength="126.51" lengthAdjust="spacingAndGlyphs">Overview</text>
<defs><linearGradient id="tg2" gradientUnits="userSpaceOnUse" x1="325.0" y1="0" x2="539.3" y2="0"><stop offset="0" stop-color="#7847f6"/><stop offset="1" stop-color="#a57ef7"/></linearGradient></defs>
<text x="324.93" y="715.0" font-family="Liberation Sans" font-size="33.29" fill="url(#tg2)" stroke="url(#tg2)" stroke-width="0.55" textLength="214.61" lengthAdjust="spacingAndGlyphs">Attribute Impact</text>
</svg>
<div class="t" style="left:1065.97px;top:53.94px;font-size:16.72px;letter-spacing:0.226px;font-weight:400;color:#575d70;-webkit-text-stroke:0.5px currentColor;">All Users</div><div class="t" style="left:1213.91px;top:53.94px;font-size:16.72px;letter-spacing:0.279px;font-weight:400;color:#2f3343;-webkit-text-stroke:0.5px currentColor;">Oct 19, 2025 - Jan 18, 2026</div><div class="t" style="left:1507.38px;top:53.94px;font-size:16.72px;letter-spacing:0.165px;font-weight:400;color:#575d70;-webkit-text-stroke:0.5px currentColor;">First Value (TTFV)</div><div class="t" style="left:351.58px;top:165.01px;font-size:15.99px;letter-spacing:1.15px;font-weight:400;color:#a47bf6;transform:scaleX(0.9);transform-origin:0 0;-webkit-text-stroke:0.55px currentColor;">TIME TO VALUE</div><div class="t" style="left:355.69px;top:256.35px;font-size:22.09px;letter-spacing:-0.359px;font-weight:400;color:#444959;">Daily Activations</div><div class="t" style="left:829.99px;top:256.35px;font-size:22.09px;letter-spacing:-0.553px;font-weight:400;color:#444959;">Median Time To Value</div><div class="t" style="left:1303.49px;top:256.35px;font-size:22.09px;letter-spacing:-0.486px;font-weight:400;color:#444959;">Long-Tail Time To Value</div><div class="t" style="left:324.33px;top:304.84px;font-size:37.52px;letter-spacing:0.0px;font-weight:400;color:#7c4dff;transform:scaleX(1.0453);transform-origin:0 0;">58</div><div class="t" style="left:367.77px;top:314.63px;font-size:25.93px;letter-spacing:0.0px;font-weight:400;color:#b99bfb;transform:scaleX(0.8508);transform-origin:0 0;">users</div><div class="t" style="left:797.94px;top:303.94px;font-size:38.53px;letter-spacing:0.0px;font-weight:400;color:#7c4dff;transform:scaleX(1.0101);transform-origin:0 0;">20</div><div class="t" style="left:841.51px;top:316.97px;font-size:23.46px;letter-spacing:0.0px;font-weight:400;color:#b99bfb;transform:scaleX(0.9801);transform-origin:0 0;">h</div><div class="t" style="left:877.73px;top:317.20px;font-size:23.0px;letter-spacing:0.0px;font-weight:400;color:#b99bfb;transform:scaleX(0.9961);transform-origin:0 0;">m</div><div class="t" style="left:1271.65px;top:303.94px;font-size:38.53px;letter-spacing:0.0px;font-weight:400;color:#7c4dff;transform:scaleX(1.0087);transform-origin:0 0;">2</div><div class="t" style="left:1292.84px;top:316.97px;font-size:23.46px;letter-spacing:0.0px;font-weight:400;color:#b99bfb;transform:scaleX(1.0806);transform-origin:0 0;">d</div><div class="t" style="left:1329.15px;top:303.94px;font-size:38.53px;letter-spacing:0.0px;font-weight:400;color:#7c4dff;transform:scaleX(1.0719);transform-origin:0 0;">6</div><div class="t" style="left:1351.82px;top:316.97px;font-size:23.46px;letter-spacing:0.0px;font-weight:400;color:#b99bfb;transform:scaleX(1.0913);transform-origin:0 0;">h</div><div class="t" style="left:359.67px;top:461.55px;font-size:17.3px;letter-spacing:-0.383px;font-weight:400;color:#62677a;">Users who reached a value event each day.</div><div class="t" style="left:835.01px;top:461.55px;font-size:17.3px;letter-spacing:-0.271px;font-weight:400;color:#62677a;">Typical time (median) for users to reach value.</div><div class="t" style="left:1308.81px;top:461.35px;font-size:17.3px;letter-spacing:-0.307px;font-weight:400;color:#62677a;">Time taken by the slowest 10% of successful</div><div class="t" style="left:1308.08px;top:485.35px;font-size:17.3px;letter-spacing:-0.306px;font-weight:400;color:#62677a;">users to reach value.</div><div class="t" style="left:352.38px;top:665.01px;font-size:15.99px;letter-spacing:1.123px;font-weight:400;color:#a47bf6;transform:scaleX(0.9);transform-origin:0 0;-webkit-text-stroke:0.55px currentColor;">TIME TO VALUE</div><div class="t" style="left:357.66px;top:754.85px;font-size:22.09px;letter-spacing:-0.409px;font-weight:400;color:#444959;">Attribute Impact on Speed</div><div class="t" style="left:1068.3px;top:754.85px;font-size:22.09px;letter-spacing:-0.427px;font-weight:400;color:#444959;">TTV Variance by Attribute</div><div class="t" style="left:324.08px;top:838.77px;font-size:17.25px;letter-spacing:0.443px;font-weight:400;color:#1c1f2b;-webkit-text-stroke:0.28px currentColor;">device</div><div class="t" style="left:323.69px;top:877.97px;font-size:17.25px;letter-spacing:0.456px;font-weight:400;color:#1c1f2b;-webkit-text-stroke:0.28px currentColor;">browser</div><div class="t" style="left:323.68px;top:917.17px;font-size:17.25px;letter-spacing:0.485px;font-weight:400;color:#1c1f2b;-webkit-text-stroke:0.28px currentColor;">utm_source</div><div class="t" style="left:324.32px;top:956.37px;font-size:17.25px;letter-spacing:0.486px;font-weight:400;color:#1c1f2b;-webkit-text-stroke:0.28px currentColor;">so</div><div class="t" style="left:1034.38px;top:838.77px;font-size:17.25px;letter-spacing:0.507px;font-weight:400;color:#1c1f2b;-webkit-text-stroke:0.28px currentColor;">utm_source</div><div class="t" style="left:1035.02px;top:877.97px;font-size:17.25px;letter-spacing:0.786px;font-weight:400;color:#1c1f2b;-webkit-text-stroke:0.28px currentColor;">so</div><div class="t" style="left:1034.78px;top:917.17px;font-size:17.25px;letter-spacing:0.483px;font-weight:400;color:#1c1f2b;-webkit-text-stroke:0.28px currentColor;">device</div><div class="t" style="left:1034.39px;top:956.37px;font-size:17.25px;letter-spacing:0.49px;font-weight:400;color:#1c1f2b;-webkit-text-stroke:0.28px currentColor;">browser</div><div class="t halo" style="left:897.37px;top:839.45px;font-size:14.89px;letter-spacing:0.376px;font-weight:400;color:#15171f;-webkit-text-stroke:0.28px currentColor;">1663.8</div><div class="t halo" style="left:731.37px;top:878.65px;font-size:14.89px;letter-spacing:0.396px;font-weight:400;color:#15171f;-webkit-text-stroke:0.28px currentColor;">1063.8</div><div class="t halo" style="left:694.5px;top:917.85px;font-size:14.89px;letter-spacing:0.373px;font-weight:400;color:#15171f;-webkit-text-stroke:0.28px currentColor;">939.1</div><div class="t halo" style="left:667.55px;top:957.05px;font-size:14.89px;letter-spacing:0.317px;font-weight:400;color:#15171f;-webkit-text-stroke:0.28px currentColor;">837.3</div><div class="t halo" style="left:1165.44px;top:839.45px;font-size:14.89px;letter-spacing:0.351px;font-weight:400;color:#15171f;-webkit-text-stroke:0.28px currentColor;">-19m</div><div class="t halo" style="left:1608.9px;top:839.45px;font-size:14.89px;letter-spacing:0.491px;font-weight:400;color:#15171f;-webkit-text-stroke:0.28px currentColor;">5h 23m</div><div class="t halo" style="left:1143.14px;top:878.65px;font-size:14.89px;letter-spacing:0.483px;font-weight:400;color:#15171f;-webkit-text-stroke:0.28px currentColor;">-10m 42s</div><div class="t halo" style="left:1462.93px;top:878.65px;font-size:14.89px;letter-spacing:0.145px;font-weight:400;color:#15171f;-webkit-text-stroke:0.28px currentColor;">3h 16m</div><div class="t halo" style="left:1157.54px;top:917.85px;font-size:14.89px;letter-spacing:0.878px;font-weight:400;color:#15171f;-webkit-text-stroke:0.28px currentColor;">-5m 48s</div><div class="t halo" style="left:1359.17px;top:917.85px;font-size:14.89px;letter-spacing:0.478px;font-weight:400;color:#15171f;-webkit-text-stroke:0.28px currentColor;">1h 49m</div><div class="t halo" style="left:1155.84px;top:957.05px;font-size:14.89px;letter-spacing:0.461px;font-weight:400;color:#15171f;-webkit-text-stroke:0.28px currentColor;">-8m 16s</div><div class="t halo" style="left:1327.57px;top:957.05px;font-size:14.89px;letter-spacing:-0.082px;font-weight:400;color:#15171f;-webkit-text-stroke:0.28px currentColor;">1h 18m</div><div class="t" style="left:360.46px;top:1026.03px;font-size:16.13px;letter-spacing:0.344px;font-weight:400;color:#62677a;">User attributes most strongly correlated with TTV speed.</div><div class="t" style="left:1070.53px;top:1026.03px;font-size:16.13px;letter-spacing:0.335px;font-weight:400;color:#62677a;">Variance in TTV speed within specific attributes.</div>
</div></body></html>
